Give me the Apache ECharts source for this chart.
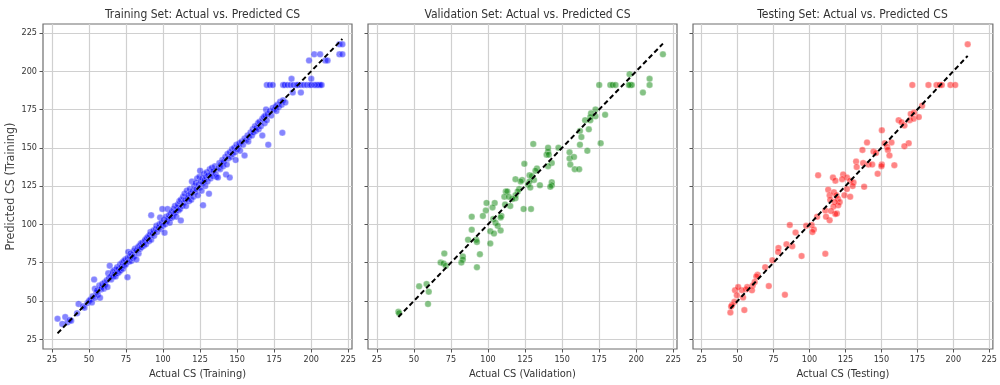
<!DOCTYPE html>
<html>
<head>
<meta charset="utf-8">
<script src="https://cdn.jsdelivr.net/npm/echarts@6/dist/echarts.min.js"></script>
<style>
html,body{margin:0;padding:0;background:#fff;}
#main{width:1000px;height:385px;}
</style>
</head>
<body>
<div id="main"></div>
<script>
// [actual, predicted]
var trainPoints = [
  [28.8,38.4],[32,35],[34,39.5],[35.5,36],[37,37.5],[38,37],[42,42],[43,48],[46,46.5],[47,45.5],[49,48.6],[50,50],
  [51,51],[52,49],[52.5,53],[53.5,64],[54,58],[54,52],[55,55.5],[55.5,57],[56,54],[57,60],[57.5,52],[58,57.5],
  [58.5,59],[59,61],[60,58],[60.5,62],[61,60.5],[62,63.5],[62.5,59],[63,68],[63.5,65],[64,73],[64.5,66],[65,64],
  [65.5,67],[66,69],[66.5,66],[67,70],[67.5,67.5],[68,66],[68.5,70.5],[69,72],[69.5,68],[70,71],[70.5,69],[71,74],
  [71.5,70],[72,72.5],[72.5,75],[73,71],[73.5,76],[74,73],[74.5,77],[75,74],[76,65.5],[76.5,82],
  [76,78],[77,75.5],[77.5,79],[78,81],[78.5,76],[79,80],[79.5,78],[80,82.5],[80.5,79],[81,84],[82,77],[82,83],
  [83,85],[83.5,81],[84,86],[84.5,84],[85,87.5],[85.5,85],[86,88],[87,86],[87.5,89],[88,90],[88.5,87],[89,91],
  [90,92],[90.5,89],[91,93],[91.5,95],[92,106],[92,90],[93,94],[93.5,96],[94,92.5],[95,97],[95.5,99],[96,95],
  [97,98],[97.5,100],[98,104.5],[98.5,97],[99,101],[99.5,110],[100,99],[100.5,103],[101,94.5],[101.5,100],
  [102,105],[102.5,102],[103,110],[103.5,104],
  [104,106],[104.5,101],[105,107],[105.5,104],[106,108.5],[106.5,105],[107,110],[107.5,107],[108,112],[108.5,108],
  [109,105],[109.5,111],[110,113],[110.5,109],[111,115],[111.5,110],[112,102.5],[112,116],[113,112],[113.5,118],
  [114,114],[114.5,120],[115,116],[115.5,112],[116,122],[116.5,117],[117,119],[117.5,115],[118,123],[118.5,120],
  [119,116],[119.5,128],[120,122],[120.5,118],[121,125],[121.5,121],[122,127],[122.5,123],[123,130],[123.5,119],
  [124,126],[124.5,131],[125,135],[125,124],[125.5,128],[126,122],[126.5,130],[127,112.5],[127,127],[127.5,133],
  [128,129],[128.5,125],[129,131],[129.5,134],[130,128],[130.5,132],[131,120],
  [131.5,136],[132,130],[132.5,133],[133,137],[133.5,131.5],[134,135],[135,138],[135.5,133],[136,131],[137,130.5],
  [137.5,137],[138,140],[138.5,136],[139,139],[140,142],[140.5,138],[141,141],[142,144],[142.5,132.5],[143,139],
  [143.5,146],[144,143],[145,130.5],[145,147],[146,144],[146.5,149],[147,146],[148,150],[148.5,147],[149,142],
  [149.5,152],[150,149],[151,151],[151.5,153],[152,148],[153,154],[154,152],[155,145],[155,156],[156,155],
  [157,158],[157.5,154],[158,157],[159,160],[160,158],[160.5,162],
  [161,160],[162,164],[162.5,161],[163,163],[164,166],[164.5,162],[165,167],[166,164],[167,158],[167,169],
  [168,170],[168.5,166],[169,171],[169.5,175],[170,168],[170.5,172],[171,152],[172,174],[173,171],[174,176],
  [175,175],[176,177],[176.5,174],[177,178],[178,176.5],[179,180],[180,178],[180.5,159.8],[181,181],[182.5,179.5],
  [170,191],[172,191],[174,191],[181,191],[182,191],[184,191],[186,191],[186.7,195],[187.5,186],[188,191],
  [190,191],[191,191],[193,186],[193,191],[195,191],[197,191],[199,191],[200,195],[200,191],[202,191],
  [203,191],[204,191],[205,191],[206,191],[207,191],[198.5,207],[202,211],[206,211],[209.5,207],[211,207],
  [219,217.5],[221,217.5],[219,211],[221,211]
];

var valPoints = [
  [218,211],[195.5,198],[196,191],[197,191],[195,191],[209,195],[209,191],[204.5,186],[175,191],
  [182.5,191],[184,191],[186,191],[179,171.5],[172.5,175],[172.5,170.5],[169.5,172.5],[169,170],[169,168],
  [165.5,168],[168,162],[162,161],[163,157],[162,152],[167,148],[176,153],[155,147],[155,143],[158,144],
  [155.5,139],[158.5,136],[161.5,136],[147.5,150],[130.5,152.5],[140.5,150],[140.5,147.5],[139.5,145.5],
  [141,145.5],[143,140],[140.5,138],[143,127.5],[143,125.5],[142,124.5],[135,125.5],[124.5,139.5],[133,136.5],
  [132,135],[128,132],[129.5,131.5],[131,129],[128,128],[127,126],[128.5,124],[123,129],[122,128],[118.5,129.5],
  [121,123],[120,121.5],[124,110],[129,110],[118.5,119],[118.5,117],[116.5,116.5],[112,121.5],[113,121.5],
  [111,118],[114,118],[115,112],[111.5,113],[104.5,114],[99,114],[103,111],[98.5,109],[96.5,105.5],[89,105],
  [109,105.5],[108.5,104.5],[103.5,103.5],[105,101],[106.5,99],[101.5,95.5],[104,94],[108.5,96],[101.5,87.5],
  [89,96.5],[86.5,90],[92,90],[92.5,88.5],[94.5,80.5],[92.5,72],[83,79],[83,77],[82,75],[70.5,81],[68,75],
  [70,74.5],[71.5,73],[53.5,59.5],[58.5,61],[60,56],[59.5,48],[39.5,43],[40,42]
];

var testPoints = [
  [210,217.5],[171.5,191],[182.7,191],[188.3,191],[190.5,191],[192,191],[198,191],[201.3,191],[178.3,177.4],
  [170.4,172],[172.7,173],[169.7,168],[172.4,169],[176,170],[166,164.6],[162,168],[164,166.7],[169,153],
  [166,151],[157,153.5],[152.3,153],[154,150.5],[154.5,148.6],[155.6,145],[150.3,161.4],[150.3,139],[150,138],
  [159,138.6],[147.4,133],[140,153.5],[136.8,148.6],[144.5,147.5],[146.2,146.5],[137.3,140],[141,139],
  [143.6,139],[132.4,141],[132.8,137.5],[138,124.5],[106,132],[116.3,130.5],[118,128.5],[123.4,132.6],
  [126,130.5],[122.7,129.5],[128.3,128.5],[130.6,127.3],[130,125],[126,123],[124.3,119],[128.3,118],
  [113,122.6],[114,119],[114.4,116],[117,121],[118.7,119],[119.8,116.6],[121,114.5],[120,112.4],[117.6,114.5],
  [116.7,111.7],[119,107],[118,106.8],[111,109],[115,108.7],[114,102.6],[111.5,105],[105.3,105],[97.7,99],
  [101.5,99.6],[103,96.6],[102,95],[86.3,99.6],[90.3,94.7],[84,87],[88,85.7],[78.4,84.6],[78.2,82],
  [94.5,79.3],[111,80.8],[74.2,76.5],[69.2,72],[63.9,67],[63,66],[61.9,62.3],[60.5,60],[60,56.9],[71.7,59.7],
  [82.9,54],[56.7,59],[56,57.6],[53,57],[48.2,57],[50.4,59],[53.8,52.3],[49.5,53.7],[47.8,49.4],[46.2,47.3],
  [45.5,46.3],[45,42.4],[54.7,44]
];

var tickValues = [25, 50, 75, 100, 125, 150, 175, 200, 225];
var panelTitles = ['Training Set: Actual vs. Predicted CS', 'Validation Set: Actual vs. Predicted CS', 'Testing Set: Actual vs. Predicted CS'];
var xNames = ['Actual CS (Training)', 'Actual CS (Validation)', 'Actual CS (Testing)'];
var yName = 'Predicted CS (Training)';
var pointColors = ['rgba(0,0,255,0.6)', 'rgba(0,128,0,0.6)', 'rgba(255,0,0,0.6)'];
var allPoints = [trainPoints, valPoints, testPoints];

var FONT = "'Liberation Sans Narrow', 'DejaVu Sans Condensed', sans-serif";
var gridLefts = [43, 368, 693];
var GRID_W = 309, GRID_TOP = 24, GRID_H = 332;

// y = x reference line from min to max actual value
function diagLine(pts) {
    var lo = Infinity, hi = -Infinity;
    for (var i = 0; i < pts.length; i++) {
        if (pts[i][0] < lo) lo = pts[i][0];
        if (pts[i][0] > hi) hi = pts[i][0];
    }
    return [[lo, lo], [hi, hi]];
}

var grids = [], xAxes = [], yAxes = [], titles = [], series = [];
for (var k = 0; k < 3; k++) {
    grids.push({
        left: gridLefts[k], top: GRID_TOP, width: GRID_W, height: GRID_H,
        show: true, borderColor: '#6e6e6e', borderWidth: 1.2, backgroundColor: '#fff'
    });
    titles.push({
        text: panelTitles[k],
        left: gridLefts[k] + GRID_W / 2, top: 4, textAlign: 'center',
        textStyle: { fontFamily: FONT, fontSize: 12, fontWeight: 'normal', color: '#333' }
    });
    xAxes.push({
        gridIndex: k, type: 'value', min: 19, max: 227.5,
        name: xNames[k], nameLocation: 'middle', nameGap: 20,
        nameTextStyle: { fontFamily: FONT, fontSize: 11, color: '#333' },
        axisLine: { show: false },
        axisTick: { show: true, length: 3.5, customValues: tickValues, lineStyle: { color: '#555' } },
        axisLabel: { customValues: tickValues, margin: 6, fontFamily: FONT, fontSize: 9, color: '#333' },
        splitLine: { show: true, lineStyle: { color: '#d0d0d0', width: 1.2 } }
    });
    yAxes.push({
        gridIndex: k, type: 'value', min: 18.6, max: 230.8,
        name: k === 0 ? yName : '', nameLocation: 'middle', nameGap: 16,
        nameTextStyle: { fontFamily: FONT, fontSize: 12.5, color: '#444' },
        axisLine: { show: false },
        axisTick: { show: true, length: 3.5, customValues: tickValues, lineStyle: { color: '#555' } },
        axisLabel: { show: k === 0, customValues: tickValues, margin: 6, fontFamily: FONT, fontSize: 9, color: '#333' },
        splitLine: { show: true, lineStyle: { color: '#d0d0d0', width: 1.2 } }
    });
    series.push({
        type: 'scatter', xAxisIndex: k, yAxisIndex: k,
        symbolSize: 6.5,
        itemStyle: { color: pointColors[k], borderColor: 'rgba(255,255,255,0.7)', borderWidth: 0.5 },
        data: allPoints[k], z: 2
    });
    series.push({
        type: 'line', xAxisIndex: k, yAxisIndex: k,
        symbol: 'none', silent: true,
        lineStyle: { color: '#000', width: 2, type: [5, 3] },
        data: diagLine(allPoints[k]), z: 3
    });
}

var myChart = echarts.init(document.getElementById('main'));
var option = {
    backgroundColor: '#fff',
    animation: false,
    title: titles,
    grid: grids,
    xAxis: xAxes,
    yAxis: yAxes,
    series: series
};
myChart.setOption(option);
</script>
</body>
</html>
